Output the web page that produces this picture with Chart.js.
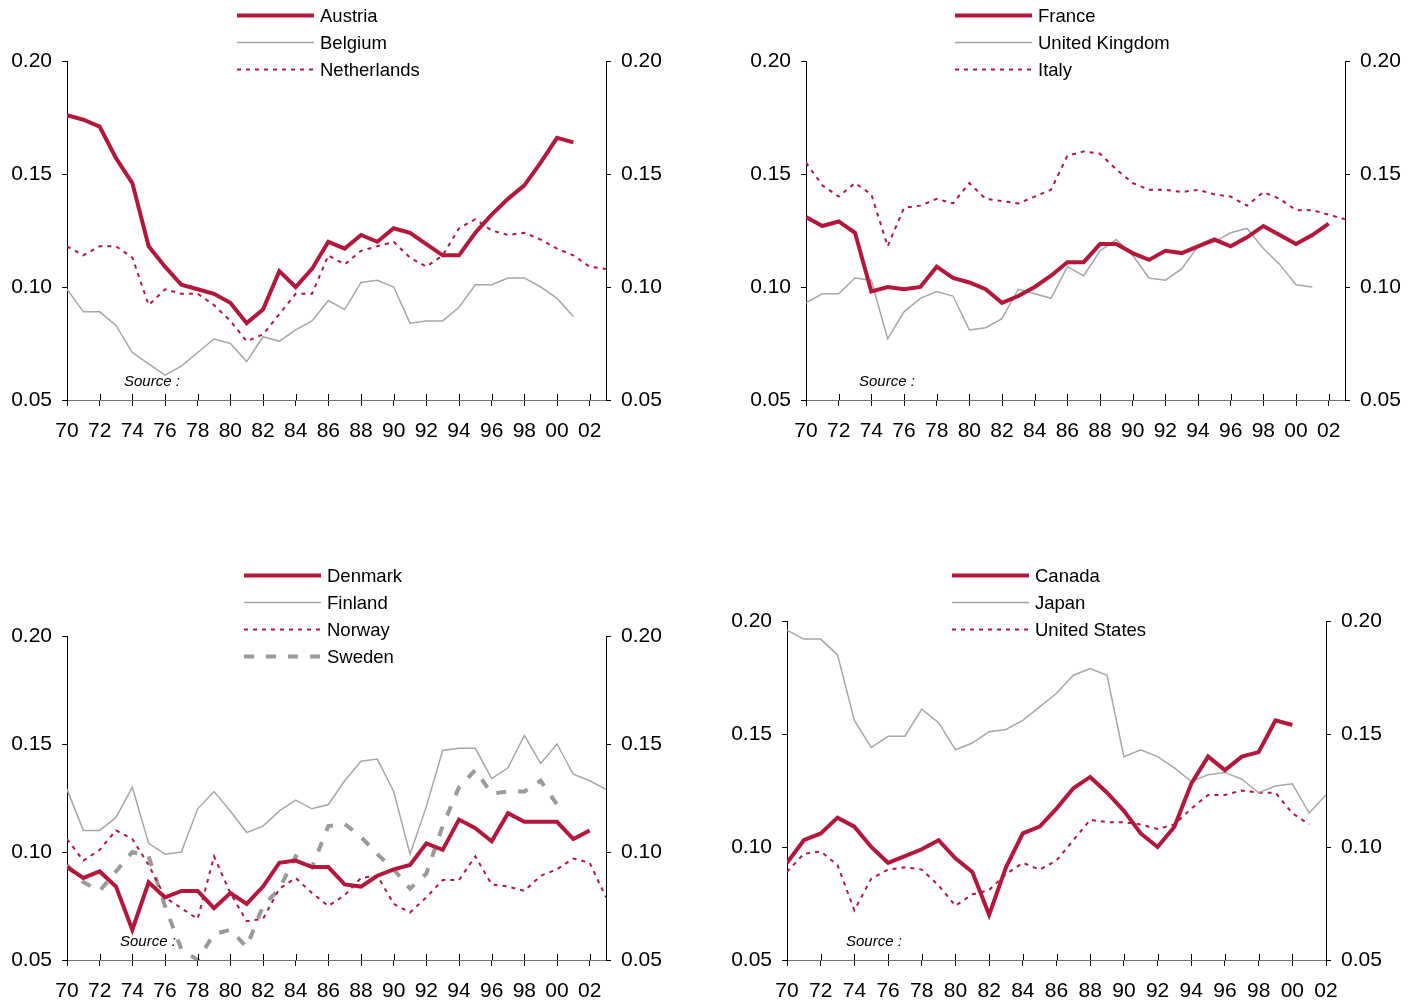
<!DOCTYPE html>
<html>
<head>
<meta charset="utf-8">
<script src="https://cdn.jsdelivr.net/npm/chart.js@4.4.0/dist/chart.umd.min.js"></script>
<style>
  body { margin: 0; background: #fff; width: 1422px; height: 1007px; position: relative; overflow: hidden;
         font-family: "Liberation Sans", Arial, sans-serif; color: #000; }
  .panel { position: absolute; }
  .legend { position: absolute; font-size: 18.5px; }
  .legend .row { height: 27px; display: flex; align-items: center; white-space: nowrap; }
  .legend svg { margin-right: 6px; }
  .source { position: absolute; font-style: italic; font-size: 15px; }
</style>
</head>
<body>

<script>
const RED = '#B3173C';
const GREY = '#A6A6A6';
const SWEDE = '#9A9A9A';

const years = [1970, 1971, 1972, 1973, 1974, 1975, 1976, 1977, 1978, 1979,
               1980, 1981, 1982, 1983, 1984, 1985, 1986, 1987, 1988, 1989,
               1990, 1991, 1992, 1993, 1994, 1995, 1996, 1997, 1998, 1999,
               2000, 2001, 2002, 2003];

const yTicks = [0.05, 0.10, 0.15, 0.20];

// panel 1
const austria = [0.176, 0.174, 0.171, 0.157, 0.146, 0.118, 0.109, 0.101, 0.099, 0.097,
                 0.093, 0.084, 0.090, 0.107, 0.100, 0.108, 0.120, 0.117, 0.123, 0.120,
                 0.126, 0.124, 0.119, 0.114, 0.114, 0.124, 0.132, 0.139, 0.145, 0.155,
                 0.166, 0.164, null, null];
const belgium = [0.099, 0.089, 0.089, 0.083, 0.071, 0.066, 0.061, 0.065, 0.071, 0.077,
                 0.075, 0.067, 0.078, 0.076, 0.081, 0.085, 0.094, 0.090, 0.102, 0.103,
                 0.100, 0.084, 0.085, 0.085, 0.091, 0.101, 0.101, 0.104, 0.104, 0.100,
                 0.095, 0.087, null, null];
const netherlands = [0.118, 0.114, 0.118, 0.118, 0.113, 0.092, 0.099, 0.097, 0.097, 0.092,
                     0.085, 0.076, 0.079, 0.088, 0.097, 0.097, 0.114, 0.110, 0.116, 0.118,
                     0.120, 0.113, 0.109, 0.114, 0.126, 0.130, 0.125, 0.123, 0.124, 0.121,
                     0.117, 0.114, 0.109, 0.108];

// panel 2
const france = [0.131, 0.127, 0.129, 0.124, 0.098, 0.100, 0.099, 0.100, 0.109, 0.104,
                0.102, 0.099, 0.093, 0.096, 0.100, 0.105, 0.111, 0.111, 0.119, 0.119,
                0.115, 0.112, 0.116, 0.115, 0.118, 0.121, 0.118, 0.122, 0.127, 0.123,
                0.119, 0.123, 0.128, null];
const uk = [0.093, 0.097, 0.097, 0.104, 0.103, 0.077, 0.089, 0.095, 0.098, 0.096,
            0.081, 0.082, 0.086, 0.099, 0.097, 0.095, 0.109, 0.105, 0.116, 0.121,
            0.114, 0.104, 0.103, 0.108, 0.118, 0.120, 0.124, 0.126, 0.117, 0.110,
            0.101, 0.100, null, null];
const italy = [0.155, 0.145, 0.140, 0.146, 0.141, 0.118, 0.135, 0.136, 0.139, 0.137,
               0.146, 0.139, 0.138, 0.137, 0.140, 0.143, 0.158, 0.160, 0.159, 0.152,
               0.146, 0.143, 0.143, 0.142, 0.143, 0.141, 0.140, 0.136, 0.142, 0.139,
               0.134, 0.134, 0.132, 0.130];

// panel 3
const denmark = [0.093, 0.088, 0.091, 0.084, 0.064, 0.086, 0.079, 0.082, 0.082, 0.074,
                 0.081, 0.076, 0.084, 0.095, 0.096, 0.093, 0.093, 0.085, 0.084, 0.089,
                 0.092, 0.094, 0.104, 0.101, 0.115, 0.111, 0.105, 0.118, 0.114, 0.114,
                 0.114, 0.106, 0.110, null];
const finland = [0.129, 0.110, 0.110, 0.116, 0.130, 0.104, 0.099, 0.100, 0.120, 0.128,
                 0.119, 0.109, 0.112, 0.119, 0.124, 0.120, 0.122, 0.133, 0.142, 0.143,
                 0.128, 0.099, 0.121, 0.147, 0.148, 0.148, 0.134, 0.139, 0.154, 0.141,
                 0.150, 0.136, 0.133, 0.129];
const norway = [0.106, 0.096, 0.101, 0.110, 0.106, 0.094, 0.079, 0.074, 0.069, 0.098,
                0.081, 0.068, 0.069, 0.083, 0.088, 0.081, 0.075, 0.080, 0.088, 0.089,
                0.076, 0.072, 0.079, 0.087, 0.087, 0.098, 0.085, 0.084, 0.082, 0.089,
                0.092, 0.097, 0.095, 0.079];
const sweden = [0.094, 0.086, 0.082, 0.091, 0.100, 0.098, 0.075, 0.055, 0.050, 0.062,
                0.064, 0.056, 0.075, 0.083, 0.098, 0.093, 0.112, 0.113, 0.107, 0.099,
                0.092, 0.083, 0.090, 0.112, 0.130, 0.138, 0.127, 0.128, 0.128, 0.133,
                0.122, null, null, null];

// panel 4 (1970-2002)
const canada = [0.093, 0.103, 0.106, 0.113, 0.109, 0.100, 0.093, 0.096, 0.099, 0.103,
                0.095, 0.089, 0.070, 0.091, 0.106, 0.109, 0.117, 0.126, 0.131, 0.124,
                0.116, 0.106, 0.100, 0.109, 0.128, 0.140, 0.134, 0.140, 0.142, 0.156,
                0.154, null, null];
const japan = [0.196, 0.192, 0.192, 0.185, 0.156, 0.144, 0.149, 0.149, 0.161, 0.155,
               0.143, 0.146, 0.151, 0.152, 0.156, 0.162, 0.168, 0.176, 0.179, 0.176,
               0.140, 0.143, 0.140, 0.135, 0.129, 0.132, 0.133, 0.130, 0.124, 0.127,
               0.128, 0.115, 0.123];
const us = [0.089, 0.097, 0.098, 0.092, 0.072, 0.086, 0.090, 0.091, 0.090, 0.083,
            0.074, 0.079, 0.081, 0.088, 0.093, 0.090, 0.094, 0.103, 0.112, 0.111,
            0.111, 0.110, 0.108, 0.110, 0.117, 0.123, 0.123, 0.125, 0.124, 0.124,
            0.115, 0.110, null];

const styles = {
    thick: { color: RED, width: 4, dash: [] },
    thin: { color: GREY, width: 1.5, dash: [] },
    dot: { color: RED, width: 2, dash: [4, 5] },
    dash: { color: SWEDE, width: 4, dash: [10, 12] }
};

const panels = [
    { left: 0, top: 0, w: 690, h: 450, L: 67, R: 84, padTop: 61, xH: 50, xMax: 2003,
      legend: [237, 2], source: [124, 372],
      series: [['Austria', austria, 'thick'], ['Belgium', belgium, 'thin'], ['Netherlands', netherlands, 'dot']] },
    { left: 720, top: 0, w: 700, h: 450, L: 86, R: 75, padTop: 61, xH: 50, xMax: 2003,
      legend: [955, 2], source: [859, 372],
      series: [['France', france, 'thick'], ['United Kingdom', uk, 'thin'], ['Italy', italy, 'dot']] },
    { left: 0, top: 560, w: 690, h: 447, L: 67, R: 84, padTop: 76, xH: 47, xMax: 2003,
      legend: [244, 562], source: [120, 932],
      series: [['Denmark', denmark, 'thick'], ['Finland', finland, 'thin'], ['Norway', norway, 'dot'], ['Sweden', sweden, 'dash']] },
    { left: 720, top: 560, w: 700, h: 447, L: 67, R: 94, padTop: 61, xH: 47, xMax: 2002,
      legend: [952, 562], source: [846, 932],
      series: [['Canada', canada, 'thick'], ['Japan', japan, 'thin'], ['United States', us, 'dot']] }
];

// small tick marks above the x axis (the original ticks cross the axis)
const upTicks = {
    id: 'upTicks',
    afterDraw(chart) {
        const x = chart.scales.x;
        const ctx = chart.ctx;
        const b = chart.chartArea.bottom;
        ctx.save();
        ctx.strokeStyle = '#000';
        ctx.lineWidth = 1;
        x.ticks.forEach(t => {
            const px = Math.round(x.getPixelForValue(t.value)) + 0.5;
            ctx.beginPath();
            ctx.moveTo(px, b - 6);
            ctx.lineTo(px, b);
            ctx.stroke();
        });
        ctx.restore();
    }
};

function yAxis(pos, width) {
    return {
        type: 'linear',
        position: pos,
        min: 0.05,
        max: 0.20,
        afterBuildTicks: axis => { axis.ticks = yTicks.map(v => ({ value: v })); },
        afterFit: axis => { axis.width = width; },
        border: { color: '#000', width: 1 },
        grid: { drawOnChartArea: false, tickLength: 5, tickColor: '#000' },
        ticks: {
            padding: 10,
            color: '#000',
            font: { family: 'Liberation Sans', size: 21 },
            callback: v => v.toFixed(2)
        }
    };
}

function legendSample(style) {
    const s = styles[style];
    return `<svg width="77" height="27"><line x1="0" y1="13.5" x2="77" y2="13.5"
        stroke="${s.color}" stroke-width="${s.width}" stroke-dasharray="${s.dash.join(' ') || 'none'}"/></svg>`;
}

panels.forEach((p, n) => {
    const canvas = document.createElement('canvas');
    canvas.className = 'panel';
    canvas.style.left = p.left + 'px';
    canvas.style.top = p.top + 'px';
    canvas.style.width = p.w + 'px';
    canvas.style.height = p.h + 'px';
    canvas.width = p.w;
    canvas.height = p.h;
    document.body.appendChild(canvas);

    const datasets = p.series.map(([label, values, style]) => ({
        label: label,
        data: values.map((v, i) => ({ x: years[i], y: v })),
        borderColor: styles[style].color,
        borderWidth: styles[style].width,
        borderDash: styles[style].dash,
        pointRadius: 0,
        tension: 0,
        spanGaps: false,
        yAxisID: 'y'
    }));
    // thick red line on top, like the original
    datasets.forEach((d, i) => { d.order = p.series[i][2] === 'thick' ? 0 : 1; });

    new Chart(canvas, {
        type: 'line',
        data: { datasets: datasets },
        options: {
            responsive: false,
            animation: false,
            layout: { padding: { top: p.padTop, left: 0, right: 0, bottom: 0 } },
            plugins: { legend: { display: false }, tooltip: { enabled: false } },
            scales: {
                x: {
                    type: 'linear',
                    min: 1970,
                    max: p.xMax,
                    afterFit: axis => { axis.height = p.xH; },
                    border: { color: '#777', width: 1 },
                    grid: { drawOnChartArea: false, tickLength: 6, tickColor: '#000' },
                    ticks: {
                        stepSize: 2,
                        includeBounds: false,
                        autoSkip: false,
                        maxRotation: 0,
                        padding: 13,
                        color: '#000',
                        font: { family: 'Liberation Sans', size: 21 },
                        callback: v => String(v).slice(2)
                    }
                },
                y: yAxis('left', p.L),
                y2: yAxis('right', p.R)
            }
        },
        plugins: [upTicks]
    });

    const lg = document.createElement('div');
    lg.className = 'legend';
    lg.style.left = p.legend[0] + 'px';
    lg.style.top = p.legend[1] + 'px';
    lg.innerHTML = p.series.map(([label, , style]) =>
        `<div class="row">${legendSample(style)}<span>${label}</span></div>`).join('');
    document.body.appendChild(lg);

    const src = document.createElement('div');
    src.className = 'source';
    src.style.left = p.source[0] + 'px';
    src.style.top = p.source[1] + 'px';
    src.textContent = 'Source :';
    document.body.appendChild(src);
});
</script>
</body>
</html>
